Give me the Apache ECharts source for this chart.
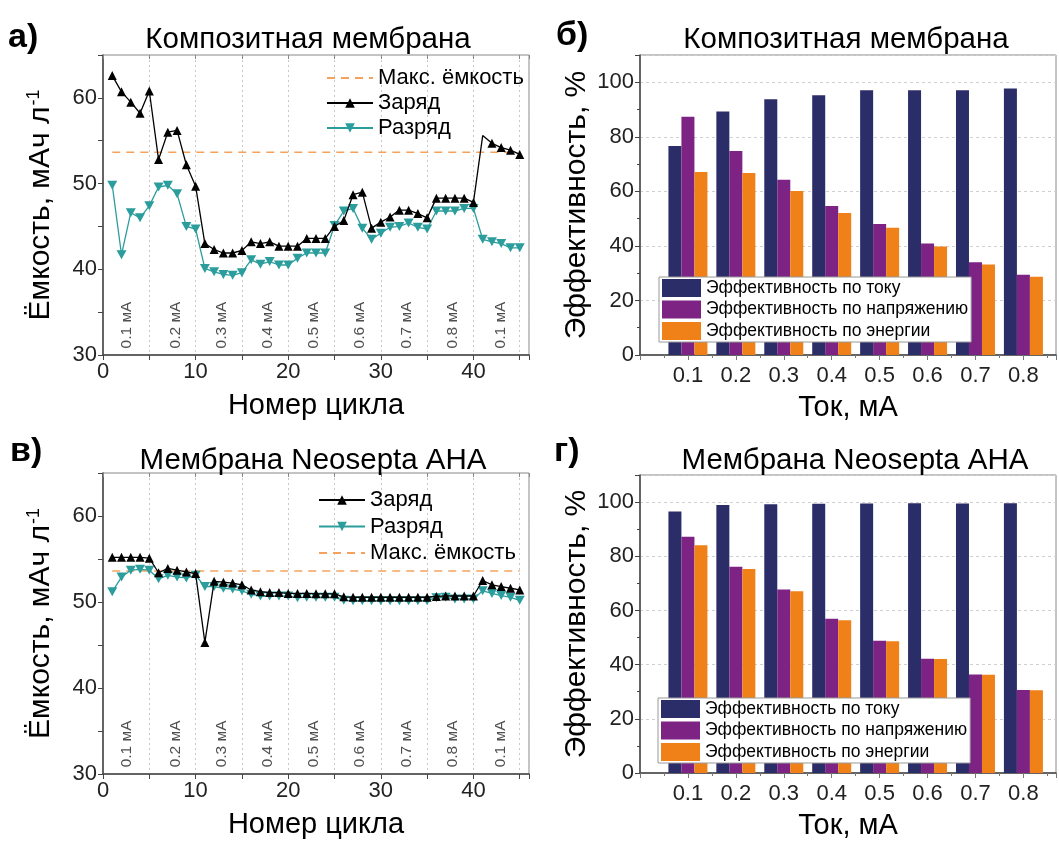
<!DOCTYPE html>
<html><head><meta charset="utf-8">
<script src="https://cdn.jsdelivr.net/npm/echarts@6/dist/echarts.min.js"></script>
<style>html,body{margin:0;padding:0;background:#fff}#c{width:1059px;height:841px}</style>
</head><body><div id="c"></div>
<script>
// ---------- data ----------
const cycles = [1,2,3,4,5,6,7,8,9,10,11,12,13,14,15,16,17,18,19,20,21,22,23,24,25,26,27,28,29,30,31,32,33,34,35,36,37,38,39,40,41,42,43,44,45];
const chargeComposite = [62.6,60.7,59.5,58.2,60.8,52.8,56.0,56.2,52.2,49.7,43.0,42.3,41.9,41.9,42.2,43.2,43.0,43.2,42.7,42.7,42.7,43.6,43.6,43.6,45.0,45.7,48.7,49.0,44.8,45.5,46.1,46.9,46.9,46.5,46.0,48.3,48.3,48.3,48.3,47.8,55.6,54.7,54.2,53.9,53.4];
const dischargeComposite = [49.8,41.7,46.6,46.0,47.4,49.6,49.8,48.8,45.0,44.7,40.1,39.7,39.4,39.3,39.6,41.1,40.6,40.9,40.5,40.5,41.3,41.9,41.9,41.9,45.1,46.8,47.1,44.8,43.5,44.2,44.9,45.0,45.4,44.9,44.7,46.8,46.8,46.8,47.1,47.1,43.5,43.2,43.0,42.5,42.5];
const maxCapComposite = 53.65;
const chargeNeosepta = [55.2,55.2,55.2,55.2,55.1,53.4,53.9,53.7,53.5,53.3,45.3,52.4,52.3,52.2,52.0,51.4,51.2,51.1,51.1,51.0,51.0,51.0,50.95,50.95,50.95,50.6,50.55,50.55,50.55,50.55,50.55,50.55,50.55,50.55,50.55,50.65,50.7,50.7,50.7,50.7,52.5,52.0,51.8,51.6,51.4];
const dischargeNeosepta = [51.2,52.9,53.7,53.8,53.7,52.7,53.1,52.9,52.8,53.1,51.8,51.8,51.6,51.5,51.3,50.9,50.7,50.7,50.7,50.7,50.5,50.55,50.55,50.55,50.55,50.2,50.15,50.15,50.15,50.15,50.15,50.15,50.15,50.15,50.15,50.5,50.55,50.35,50.35,50.35,51.3,51.0,50.75,50.55,50.2];
const maxCapNeosepta = 53.6;
const currentTags = ['0.1 мА','0.2 мА','0.3 мА','0.4 мА','0.5 мА','0.6 мА','0.7 мА','0.8 мА','0.1 мА'];
const currentTagCycles = [2.6,7.8,12.8,17.8,22.8,27.7,32.8,37.8,42.9];

const currents = [0.1,0.2,0.3,0.4,0.5,0.6,0.7,0.8];
const currentEffComposite = [76.6,89.3,93.8,95.2,97.1,97.1,97.1,97.7];
const voltageEffComposite = [87.4,74.8,64.3,54.6,48.0,40.9,34.0,29.4];
const energyEffComposite  = [67.1,66.7,60.1,52.1,46.7,39.8,33.2,28.7];
const currentEffNeosepta = [96.5,98.9,99.2,99.4,99.5,99.6,99.5,99.6];
const voltageEffNeosepta = [87.2,76.1,67.7,56.9,48.8,42.2,36.4,30.6];
const energyEffNeosepta  = [84.1,75.3,67.1,56.4,48.6,42.1,36.3,30.5];

// ---------- styles ----------
const FONT = 'Liberation Sans';
const C_CHARGE = '#000000', C_DIS = '#2a9d9c', C_MAX = '#f5a25d';
const C_BLUE = '#2b2d69', C_PURP = '#7c2383', C_ORNG = '#f08119';
const AX = '#444';
const DOWN_TRI = 'path://M0,0 L10,0 L5,9 Z';

const grids = [
  {left:103, top:55, width:426, height:300},
  {left:640, top:55, width:421, height:300},
  {left:103, top:473, width:426, height:301},
  {left:640, top:475, width:421, height:300}
];
grids.forEach(g => { g.show = true; g.borderColor = '#888'; g.borderWidth = 1; g.backgroundColor = 'transparent'; });

const xAxes = [], yAxes = [], series = [], legends = [];

function linePanel(gi, charge, discharge, maxCap, legendOrder, legendPos, chargeSpecial) {
  const xb = xAxes.length;
  xAxes.push({
    type:'value', gridIndex:gi, min:0, max:46, interval:5, position:'bottom',
    name:'Номер цикла', nameLocation:'middle', nameGap:36,
    nameTextStyle:{fontFamily:FONT, fontSize:29, color:'#000'},
    axisLine:{show:true, onZero:false, lineStyle:{color:AX, width:1.5}},
    axisTick:{show:true, length:5, lineStyle:{color:AX}},
    axisLabel:{fontFamily:FONT, fontSize:22, color:'#222', margin:6,
      formatter:v => (Math.abs(v % 10) < 1e-6 ? String(v) : '')},
    splitLine:{show:true, lineStyle:{color:'#c8c8c8', type:[2,3], width:1}}
  });
  xAxes.push({
    type:'value', gridIndex:gi, min:0, max:46, interval:5, position:'top',
    axisLine:{show:false}, axisTick:{show:true, inside:true, length:4, lineStyle:{color:'#888'}},
    axisLabel:{show:false}, splitLine:{show:false}
  });
  const yb = yAxes.length;
  yAxes.push({
    type:'value', gridIndex:gi, min:30, max:65, interval:5,
    name:'{a|Ёмкость, мАч л}{s|-1}', nameLocation:'middle', nameGap:47, nameRotate:90,
    nameTextStyle:{rich:{a:{fontFamily:FONT, fontSize:30, color:'#000'}, s:{fontFamily:FONT, fontSize:18, color:'#000', verticalAlign:'top', padding:[0,0,13,1]}}},
    axisLine:{show:true, onZero:false, lineStyle:{color:AX, width:1.5}},
    axisTick:{show:true, length:5, lineStyle:{color:AX}},
    axisLabel:{fontFamily:FONT, fontSize:22, color:'#222', margin:6,
      formatter:v => (Math.abs(v % 10) < 1e-6 && v < 65 ? String(v) : '')},
    splitLine:{show:false}
  });
  series.push({
    name:'Макс. ёмкость', type:'line', xAxisIndex:xb, yAxisIndex:yb,
    data:[[cycles[0], maxCap],[cycles[cycles.length-1], maxCap]],
    symbol:'none', color:C_MAX, lineStyle:{color:C_MAX, width:1.6, type:[8,6]}, z:3, silent:true
  });
  series.push({
    name:'Заряд', type:'line', xAxisIndex:xb, yAxisIndex:yb,
    data:cycles.map((c,i) => (chargeSpecial && chargeSpecial.indexOf(c) >= 0) ? {value:[c, charge[i]], symbol:'none'} : [c, charge[i]]),
    symbol:'triangle', symbolSize:9, color:C_CHARGE,
    itemStyle:{color:C_CHARGE}, lineStyle:{color:C_CHARGE, width:1.3}, z:5
  });
  series.push({
    name:'Разряд', type:'line', xAxisIndex:xb, yAxisIndex:yb,
    data:cycles.map((c,i) => [c, discharge[i]]),
    symbol:DOWN_TRI, symbolSize:[10,9], color:C_DIS,
    itemStyle:{color:C_DIS}, lineStyle:{color:C_DIS, width:1.3}, z:4
  });
  series.push({
    type:'scatter', xAxisIndex:xb, yAxisIndex:yb, symbolSize:0, silent:true,
    data:currentTagCycles.map((c,i) => ({value:[c, 33.5], tag:currentTags[i]})),
    label:{show:true, position:'inside', rotate:90, align:'center', verticalAlign:'middle',
      fontFamily:FONT, fontSize:15.5, color:'#222',
      formatter:p => p.data.tag}
  });
  legends.push(Object.assign({
    data:legendOrder.map(n => n === 'Макс. ёмкость' ? {name:n, itemStyle:{opacity:0}} : n),
    orient:'vertical', itemWidth:46, itemHeight:12, itemGap:3,
    textStyle:{fontFamily:FONT, fontSize:22, color:'#000'}, padding:0, selectedMode:false
  }, legendPos));
}

function barPanel(gi, eff1, eff2, eff3, legendPos) {
  const xb = xAxes.length;
  xAxes.push({
    type:'value', gridIndex:gi, min:0, max:0.868, interval:0.1, position:'bottom',
    name:'Ток, мА', nameLocation:'middle', nameGap:38,
    nameTextStyle:{fontFamily:FONT, fontSize:29, color:'#000'},
    axisLine:{show:true, onZero:false, lineStyle:{color:AX, width:1.5}},
    axisTick:{show:true, length:5, lineStyle:{color:AX}},
    axisLabel:{fontFamily:FONT, fontSize:22, color:'#222', margin:10,
      formatter:v => { const r = Math.round(v*10)/10; return (r > 0 && r < 0.85 && Math.abs(r - v) < 1e-6) ? r.toFixed(1) : ''; }},
    splitLine:{show:false}
  });
  xAxes.push({
    type:'value', gridIndex:gi, min:0, max:0.868, interval:0.1, position:'top',
    axisLine:{show:false}, axisTick:{show:true, inside:true, length:5, lineStyle:{color:'#777'}},
    minorTick:{show:true, splitNumber:2, length:3, lineStyle:{color:'#777'}},
    axisLabel:{show:false}, splitLine:{show:false}
  });
  const yb = yAxes.length;
  yAxes.push({
    type:'value', gridIndex:gi, min:0, max:110, interval:20,
    name:'Эффективность, %', nameLocation:'middle', nameGap:48, nameRotate:90,
    nameTextStyle:{fontFamily:FONT, fontSize:30, color:'#000'},
    axisLine:{show:true, onZero:false, lineStyle:{color:AX, width:1.5}},
    axisTick:{show:true, length:5, lineStyle:{color:AX}},
    minorTick:{show:true, splitNumber:2, length:3, lineStyle:{color:AX}},
    axisLabel:{fontFamily:FONT, fontSize:22, color:'#222', margin:6,
      formatter:v => (v <= 100 ? String(v) : '')},
    splitLine:{show:true, lineStyle:{color:'#cfcfcf', type:[3,3]}}
  });
  const defs = [['Эффективность по току', eff1, C_BLUE], ['Эффективность по напряжению', eff2, C_PURP], ['Эффективность по энергии', eff3, C_ORNG]];
  defs.forEach(d => series.push({
    name:d[0], type:'bar', xAxisIndex:xb, yAxisIndex:yb,
    data:currents.map((c,i) => [c, d[1][i]]),
    barWidth:13, barGap:'0%', color:d[2], itemStyle:{color:d[2]}
  }));
  legends.push(Object.assign({
    data:defs.map(d => d[0]), orient:'vertical', icon:'rect', itemWidth:39, itemHeight:18, itemGap:3.5,
    textStyle:{fontFamily:FONT, fontSize:17.5, color:'#000'},
    backgroundColor:'#fff', borderColor:'#999', borderWidth:1, padding:[2,3,2,3], selectedMode:false
  }, legendPos));
}

linePanel(0, chargeComposite, dischargeComposite, maxCapComposite, ['Макс. ёмкость','Заряд','Разряд'], {left:326, top:67}, [41]);
barPanel(1, currentEffComposite, voltageEffComposite, energyEffComposite, {left:659, top:277});
linePanel(2, chargeNeosepta, dischargeNeosepta, maxCapNeosepta, ['Заряд','Разряд','Макс. ёмкость'], {left:318, top:489, itemGap:4.5}, null);
barPanel(3, currentEffNeosepta, voltageEffNeosepta, energyEffNeosepta, {left:658, top:698});

function txt(text, x, y, size, bold) {
  return {type:'text', x:x, y:y, z:100, style:{text:text, fontFamily:FONT, fontSize:size, fontWeight:bold?'bold':'normal', fill:'#000', textAlign:bold?'left':'center', textVerticalAlign:'middle'}};
}
const graphics = [
  txt('а)', 8, 38, 34, true),
  txt('б)', 556, 36, 34, true),
  txt('в)', 10, 452, 34, true),
  txt('г)', 554, 452, 34, true),
  txt('Композитная мембрана', 308, 40, 29.5, false),
  txt('Композитная мембрана', 846, 40, 29.5, false),
  txt('Мембрана Neosepta AHA', 313, 461, 29.5, false),
  txt('Мембрана Neosepta AHA', 855, 461, 29.5, false)
];

const chart = echarts.init(document.getElementById('c'), null, {renderer:'canvas'});
chart.setOption({
  animation:false,
  backgroundColor:'#fff',
  grid:grids, xAxis:xAxes, yAxis:yAxes, series:series, legend:legends, graphic:graphics
});
</script></body></html>
